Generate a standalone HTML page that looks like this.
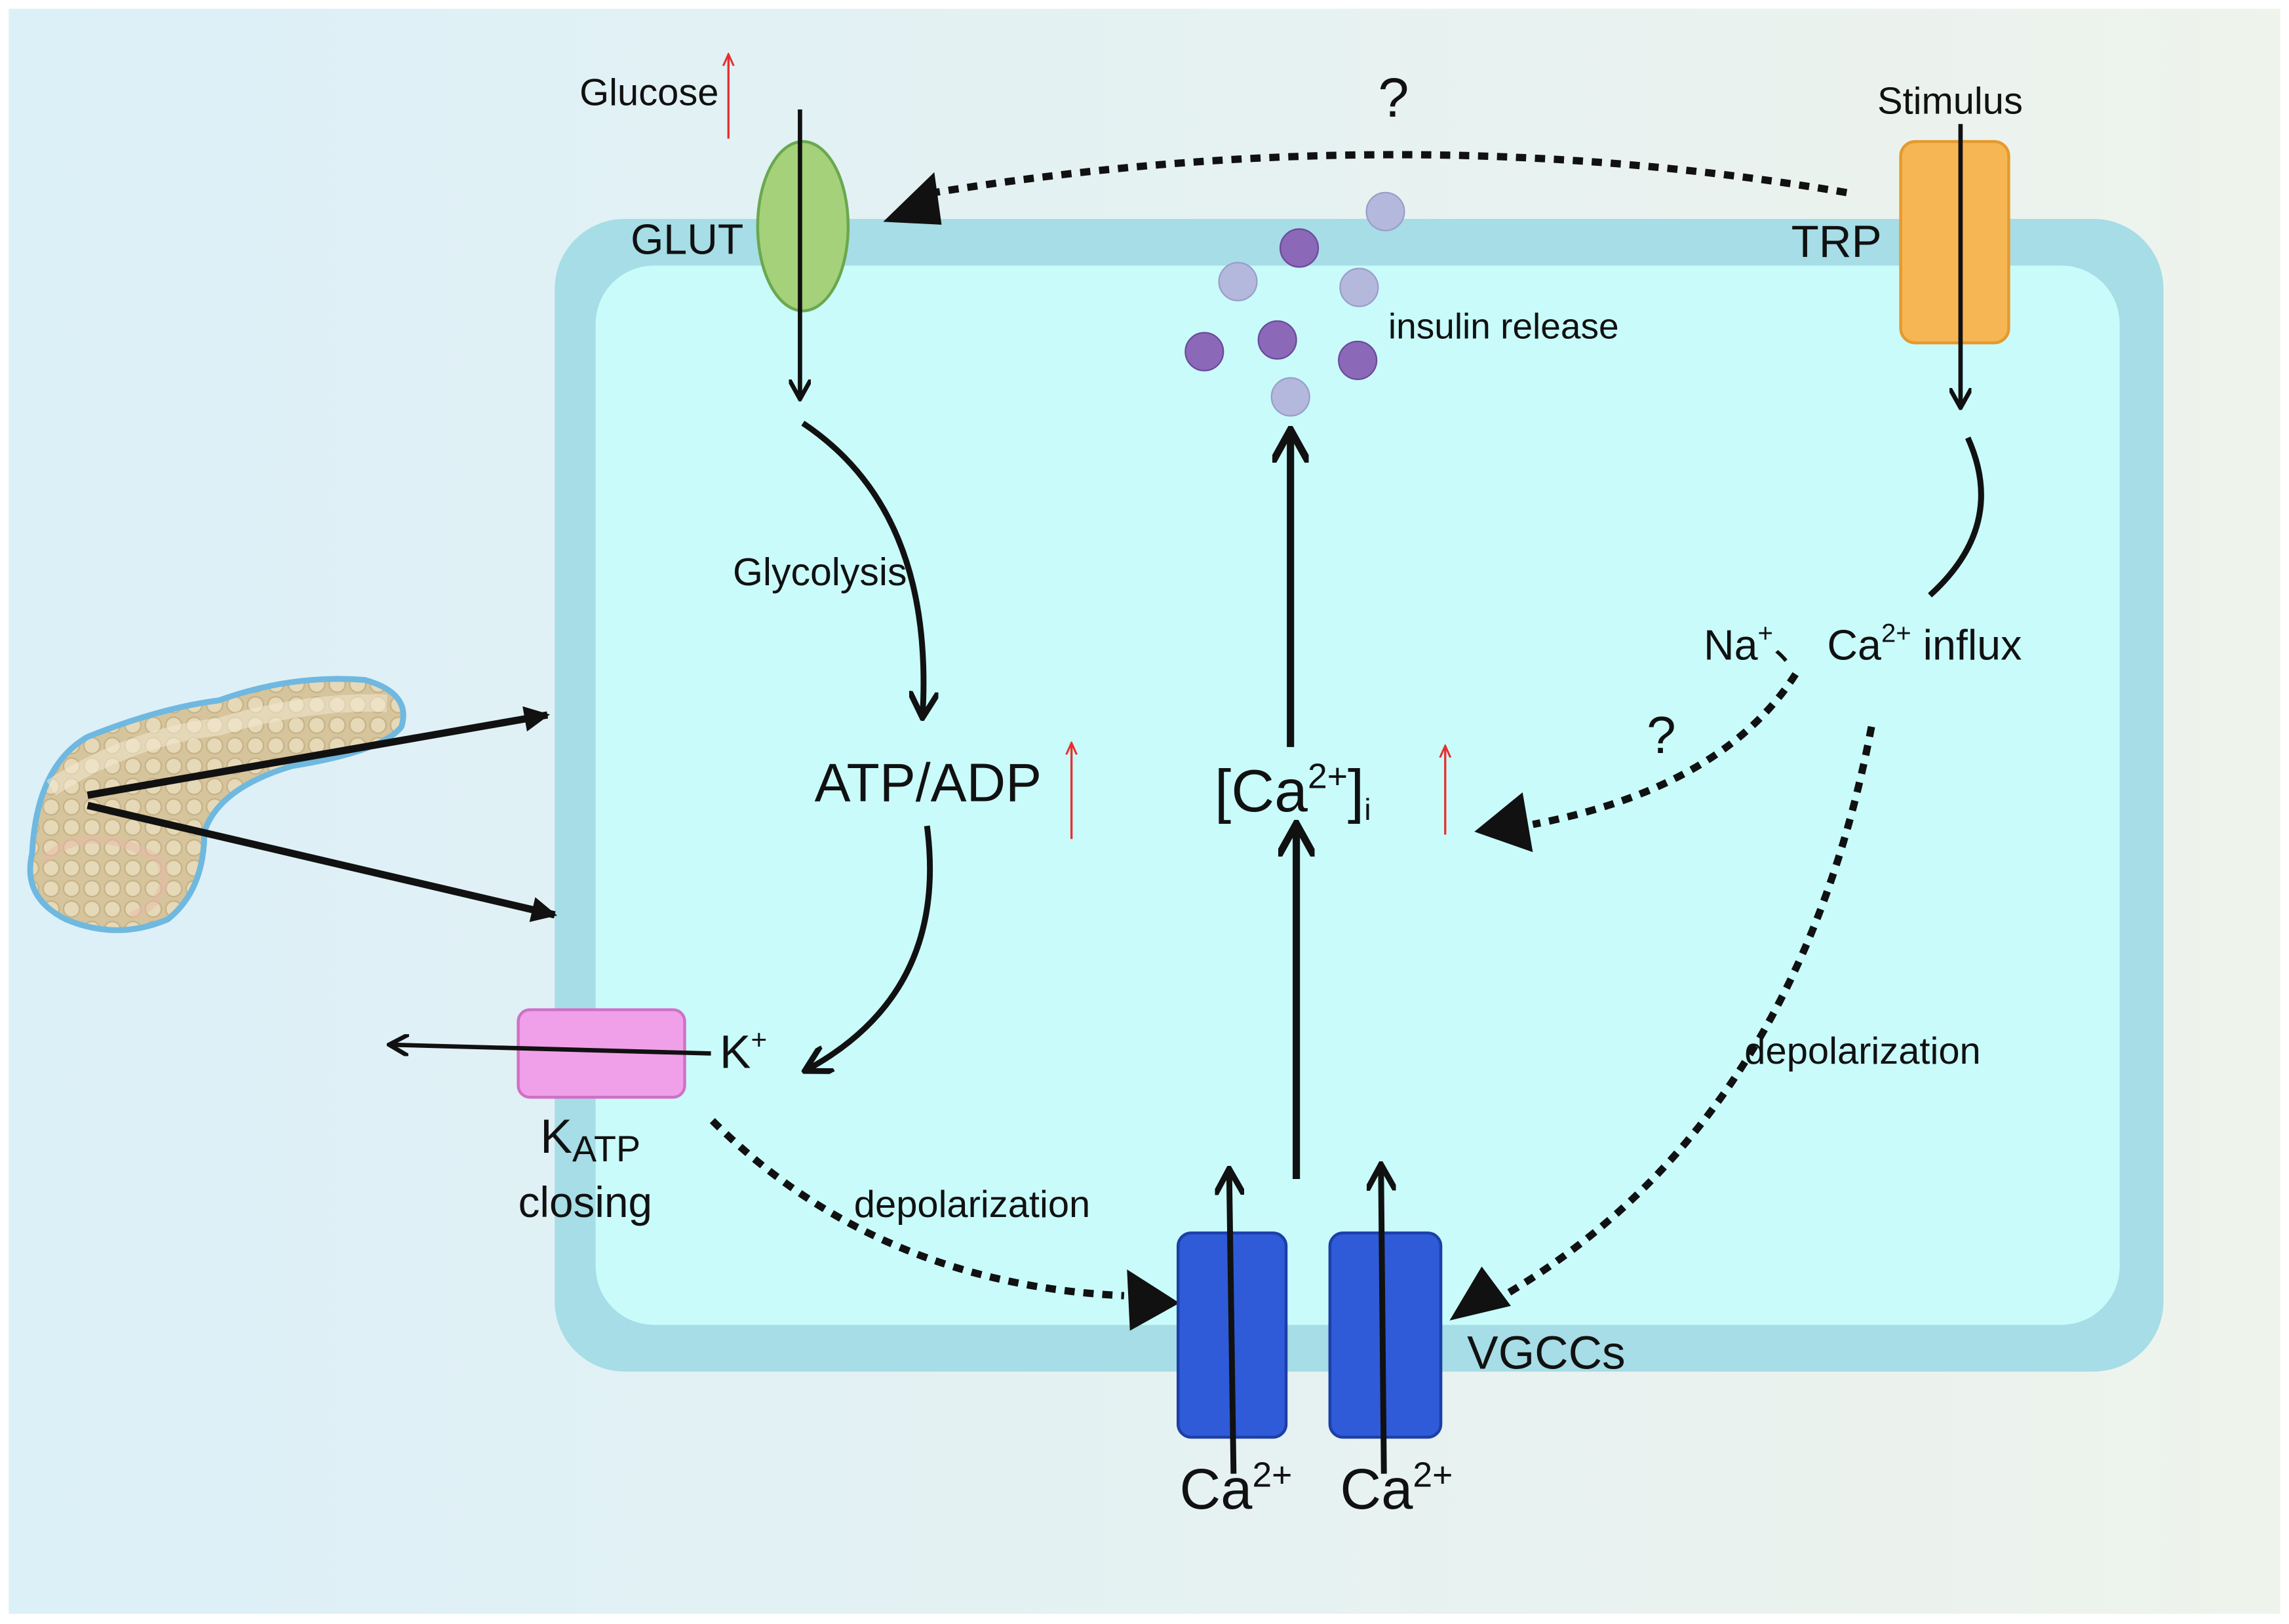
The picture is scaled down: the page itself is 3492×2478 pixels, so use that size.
<!DOCTYPE html>
<html><head><meta charset="utf-8"><style>
html,body{margin:0;padding:0;background:#fff;}
svg{display:block;}
text{font-family:"Liberation Sans",sans-serif;fill:#111;}
</style></head><body>
<svg width="3492" height="2478" viewBox="0 0 1568 1113" preserveAspectRatio="none" xmlns="http://www.w3.org/2000/svg">
<defs>
<linearGradient id="bg" x1="0" y1="0" x2="1" y2="0">
<stop offset="0" stop-color="#dcf0f8"/><stop offset="1" stop-color="#eef3ec"/>
</linearGradient>
<pattern id="pp" width="14" height="14" patternUnits="userSpaceOnUse">
<rect width="14" height="14" fill="#d6c49c"/>
<circle cx="7" cy="7" r="5.5" fill="#e6d9b8" stroke="#c6b287" stroke-width="1"/>
</pattern>
<marker id="ah" viewBox="0 0 10 10" refX="8" refY="5" markerWidth="5" markerHeight="5" orient="auto"><path d="M0,0 L9,5 L0,10" fill="none" stroke="#111" stroke-width="2"/></marker>
<marker id="ahf" viewBox="0 0 10 10" refX="9" refY="5" markerWidth="5" markerHeight="3.5" orient="auto"><path d="M0,0 L10,5 L0,10 Z" fill="#111"/></marker>
<marker id="red" viewBox="0 0 10 10" refX="8" refY="5" markerWidth="6" markerHeight="6" orient="auto"><path d="M0,1 L9,5 L0,9" fill="none" stroke="#e53030" stroke-width="1.5"/></marker>
</defs>
<rect x="0" y="0" width="1568" height="1113" fill="#fff"/>
<rect x="6" y="6" width="1556" height="1100" fill="url(#bg)"/>
<rect x="380" y="150" width="1102" height="790" rx="48" fill="#a6dde6"/>
<rect x="408" y="182" width="1044" height="726" rx="40" fill="#c9fbfb"/>

<!-- GLUT -->
<ellipse cx="550" cy="155" rx="31" ry="58" fill="#a5d17a" stroke="#6aa84f" stroke-width="2"/>
<text x="432" y="174" font-size="29">GLUT</text>
<text x="397" y="72" font-size="26">Glucose</text>
<line x1="499" y1="95" x2="499" y2="38" stroke="#e53030" stroke-width="1.5" marker-end="url(#red)"/>
<line x1="548" y1="75" x2="548" y2="272" stroke="#111" stroke-width="3" marker-end="url(#ah)"/>

<!-- TRP -->
<rect x="1302" y="97" width="74" height="138" rx="10" fill="#f6b654" stroke="#e59a2c" stroke-width="2"/>
<text x="1286" y="78" font-size="26">Stimulus</text>
<text x="1227" y="176" font-size="31">TRP</text>
<line x1="1343" y1="85" x2="1343" y2="278" stroke="#111" stroke-width="3" marker-end="url(#ah)"/>

<path d="M1265,132 Q960,80 640,132" fill="none" stroke="#111" stroke-width="5" stroke-dasharray="7,6"/>
<path d="M605,152 L640,118 L645,154 Z" fill="#111"/>
<text x="944" y="80" font-size="38">?</text>

<g fill="#b4b8dc" stroke="#9a9ec8" stroke-width="1">
<circle cx="949" cy="145" r="13"/><circle cx="848" cy="193" r="13"/><circle cx="931" cy="197" r="13"/><circle cx="884" cy="272" r="13"/>
</g>
<g fill="#8b68b8" stroke="#6b4a98" stroke-width="1">
<circle cx="890" cy="170" r="13"/><circle cx="875" cy="233" r="13"/><circle cx="825" cy="241" r="13"/><circle cx="930" cy="247" r="13"/>
</g>
<text x="951" y="232" font-size="24.7">insulin release</text>
<line x1="884" y1="512" x2="884" y2="297" stroke="#111" stroke-width="5" marker-end="url(#ah)"/>

<path d="M550,290 Q640,350 632,490" fill="none" stroke="#111" stroke-width="4" marker-end="url(#ah)"/>
<text x="502" y="401" font-size="26.5">Glycolysis</text>
<text x="558" y="549" font-size="37">ATP/ADP</text>
<line x1="734" y1="575" x2="734" y2="510" stroke="#e53030" stroke-width="1.5" marker-end="url(#red)"/>
<path d="M635,566 Q650,680 553,733" fill="none" stroke="#111" stroke-width="4" marker-end="url(#ah)"/>

<path d="M1348,300 Q1375,360 1322,408" fill="none" stroke="#111" stroke-width="4"/>
<text x="1167" y="452" font-size="29">Na<tspan font-size="18" dy="-12">+</tspan><tspan dy="12">、 Ca</tspan><tspan font-size="18" dy="-12">2+</tspan><tspan dy="12"> influx</tspan></text>

<text x="832" y="556" font-size="41">[Ca<tspan font-size="24" dy="-16">2+</tspan><tspan dy="16">]</tspan><tspan font-size="21" dy="6">i</tspan></text>
<line x1="990" y1="572" x2="990" y2="512" stroke="#e53030" stroke-width="1.5" marker-end="url(#red)"/>
<path d="M1230,462 Q1180,540 1050,565" fill="none" stroke="#111" stroke-width="5" stroke-dasharray="7,6"/>
<path d="M1010,570 L1043,543 L1050,584 Z" fill="#111"/>
<text x="1128" y="516" font-size="36">?</text>

<path d="M1282,498 Q1230,770 1030,888" fill="none" stroke="#111" stroke-width="5" stroke-dasharray="7,6"/>
<path d="M993,905 L1015,868 L1035,895 Z" fill="#111"/>
<text x="1195" y="729" font-size="26">depolarization</text>

<line x1="888" y1="808" x2="888" y2="567" stroke="#111" stroke-width="5" marker-end="url(#ah)"/>

<rect x="355" y="692" width="114" height="60" rx="8" fill="#f0a0e8" stroke="#d070c8" stroke-width="2"/>
<line x1="487" y1="722" x2="268" y2="716" stroke="#111" stroke-width="3" marker-end="url(#ah)"/>
<text x="493" y="732" font-size="32">K<tspan font-size="19" dy="-13">+</tspan></text>
<text x="370" y="790" font-size="33">K<tspan font-size="25" dy="6">ATP</tspan></text>
<text x="355" y="834" font-size="29.5">closing</text>
<path d="M488,768 Q600,880 770,888" fill="none" stroke="#111" stroke-width="5" stroke-dasharray="7,6"/>
<path d="M808,893 L772,870 L774,912 Z" fill="#111"/>
<text x="585" y="834" font-size="26">depolarization</text>

<rect x="807" y="845" width="74" height="140" rx="9" fill="#2f5bd8" stroke="#1c3fa8" stroke-width="2"/>
<rect x="911" y="845" width="76" height="140" rx="9" fill="#2f5bd8" stroke="#1c3fa8" stroke-width="2"/>
<line x1="845" y1="1010" x2="842" y2="803" stroke="#111" stroke-width="4" marker-end="url(#ah)"/>
<line x1="948" y1="1010" x2="946" y2="800" stroke="#111" stroke-width="4" marker-end="url(#ah)"/>
<text x="808" y="1034" font-size="39">Ca<tspan font-size="24" dy="-15">2+</tspan></text>
<text x="918" y="1034" font-size="39">Ca<tspan font-size="24" dy="-15">2+</tspan></text>
<text x="1005" y="938" font-size="32">VGCCs</text>

<!-- pancreas -->
<path d="M22,585 Q25,525 60,505 Q110,485 150,480 Q200,462 250,466 Q282,475 275,498 Q262,515 200,525 Q150,540 140,570 Q140,610 115,630 Q80,645 45,630 Q15,615 22,585 Z" fill="url(#pp)" stroke="#6fb8e0" stroke-width="4"/>
<path d="M35,540 Q90,505 150,498 Q210,480 265,482" fill="none" stroke="#f3ead2" stroke-width="12" opacity=".55"/>
<path d="M30,590 Q60,560 110,590 Q120,615 90,628" fill="none" stroke="#e8b9a8" stroke-width="6" opacity=".5"/>
<line x1="60" y1="545" x2="375" y2="490" stroke="#111" stroke-width="5" marker-end="url(#ahf)"/>
<line x1="60" y1="552" x2="380" y2="627" stroke="#111" stroke-width="5" marker-end="url(#ahf)"/>
</svg>
</body></html>
